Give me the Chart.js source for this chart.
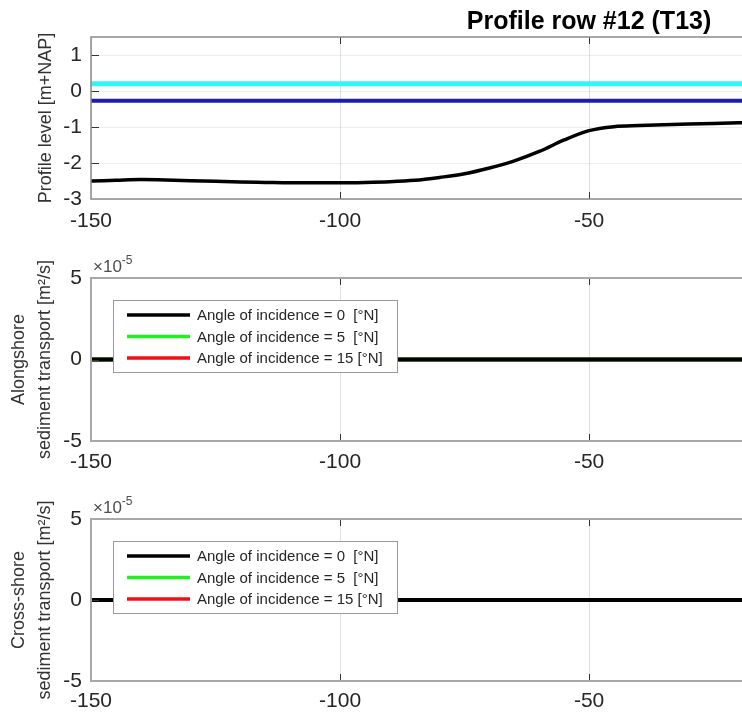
<!DOCTYPE html>
<html><head><meta charset="utf-8">
<script src="https://cdn.jsdelivr.net/npm/chart.js@4"></script>
<style>
html,body{margin:0;padding:0;background:#fff;}
#wrap{position:relative;width:742px;height:720px;overflow:hidden;background:#fff;}
canvas{position:absolute;left:0;}
</style></head><body>
<div id="wrap">
<canvas id="c1" width="742" height="240" style="top:0px"></canvas>
<canvas id="c2" width="742" height="240" style="top:240px"></canvas>
<canvas id="c3" width="742" height="240" style="top:480px"></canvas>
</div>
<script>
// ---------- data ----------
const titleText = 'Profile row #12 (T13)';
const xPositions = [-150,-145,-140,-135,-130,-125,-120,-115,-110,-105,-100,-95,-90,-85,-80,-75,-70,-65,-60,-55,-50,-45,-40,-35,-30,-25,-20,-15];
const profileLevel = [-2.50,-2.48,-2.46,-2.47,-2.49,-2.51,-2.53,-2.54,-2.55,-2.55,-2.55,-2.54,-2.52,-2.48,-2.40,-2.30,-2.14,-1.94,-1.68,-1.36,-1.10,-0.99,-0.96,-0.94,-0.92,-0.90,-0.88,-0.87];
const waterLevels = [0.2, -0.27];           // high / low water level [m+NAP]
const angleLabels = ['Angle of incidence = 0  [\u00b0N]', 'Angle of incidence = 5  [\u00b0N]', 'Angle of incidence = 15 [\u00b0N]'];
const alongshore0  = [0,0,0,0,0,0,0,0,0,0,0,0,0,0,0,0,0,0,0,0,0,0,0,0,0,0,0,0];
const alongshore5  = [0,0,0,0,0,0,0,0,0,0,0,0,0,0,0,0,0,0,0,0,0,0,0,0,0,0,0,0];
const alongshore15 = [0,0,0,0,0,0,0,0,0,0,0,0,0,0,0,0,0,0,0,0,0,0,0,0,0,0,0,0];
const crossshore0  = [0,0,0,0,0,0,0,0,0,0,0,0,0,0,0,0,0,0,0,0,0,0,0,0,0,0,0,0];
const crossshore5  = [0,0,0,0,0,0,0,0,0,0,0,0,0,0,0,0,0,0,0,0,0,0,0,0,0,0,0,0];
const crossshore15 = [0,0,0,0,0,0,0,0,0,0,0,0,0,0,0,0,0,0,0,0,0,0,0,0,0,0,0,0];
const xTickValues = [-150, -100, -50];
const levelTickValues = [-3, -2, -1, 0, 1];
const transportTickValues = [-5, 0, 5];     // in units of 1e-5
const transportExponent = -5;

// ---------- style ----------
const FONT = '"Liberation Sans", Arial, Helvetica, sans-serif';
const TXT = '#262626';
const X_MIN = -150, X_MAX = -19.3;
const angleColors = ['#000000', '#22ee22', '#ee1111'];

function pts(ys) { return xPositions.map((x, i) => ({x: x, y: ys[i]})); }

const frameTicks = {
  id: 'frameTicks',
  afterDraw(chart, args, opts) {
    const {ctx, chartArea: a} = chart;
    const xs = chart.scales.x, ys = chart.scales.y;
    ctx.save();
    ctx.strokeStyle = opts.tickColor || '#333';
    ctx.lineWidth = 1;
    ctx.beginPath();
    xs.ticks.forEach(t => {
      const px = Math.round(xs.getPixelForValue(t.value)) + 0.5;
      if (px <= a.left + 2) return;
      ctx.moveTo(px, a.bottom); ctx.lineTo(px, a.bottom - 7);
      ctx.moveTo(px, a.top); ctx.lineTo(px, a.top + 7);
    });
    ys.ticks.forEach(t => {
      const py = Math.round(ys.getPixelForValue(t.value)) + 0.5;
      if (py <= a.top + 2 || py >= a.bottom - 2) return;
      ctx.moveTo(a.left, py); ctx.lineTo(a.left + 8, py);
    });
    ctx.stroke();
    ctx.strokeStyle = opts.boxColor || '#999';
    ctx.lineWidth = opts.boxWidth || 1.5;
    ctx.beginPath();
    ctx.moveTo(chart.width + 5, a.top); ctx.lineTo(a.left, a.top);
    ctx.lineTo(a.left, a.bottom); ctx.lineTo(chart.width + 5, a.bottom);
    ctx.stroke();
    ctx.restore();
  }
};

const insideLegend = {
  id: 'insideLegend',
  afterDraw(chart, args, opts) {
    if (!opts.show) return;
    const {ctx, chartArea: a} = chart;
    const left = a.left + 22, top = a.top + 22, w = 284, h = 72;
    ctx.save();
    ctx.fillStyle = '#fff';
    ctx.fillRect(left, top, w, h);
    ctx.strokeStyle = '#9a9a9a';
    ctx.lineWidth = 1;
    ctx.strokeRect(left + 0.5, top + 0.5, w, h);
    ctx.font = '15px ' + FONT;
    ctx.textBaseline = 'middle';
    ctx.textAlign = 'left';
    chart.data.datasets.forEach((ds, i) => {
      const y = top + 15 + i * 21.5;
      ctx.strokeStyle = ds.borderColor;
      ctx.lineWidth = 3.5;
      ctx.beginPath(); ctx.moveTo(left + 14, y); ctx.lineTo(left + 77, y); ctx.stroke();
      ctx.fillStyle = TXT;
      ctx.fillText(ds.label, left + 84, y + 1);
    });
    ctx.restore();
  }
};

const exponentLabel = {
  id: 'exponentLabel',
  afterDraw(chart, args, opts) {
    if (!opts.show) return;
    const {ctx, chartArea: a} = chart;
    ctx.save();
    ctx.fillStyle = '#4d4d4d';
    ctx.textBaseline = 'alphabetic';
    ctx.textAlign = 'left';
    ctx.font = '17px ' + FONT;
    const base = '\u00d710';
    ctx.fillText(base, a.left + 2, a.top - 6);
    const w = ctx.measureText(base).width;
    ctx.font = '12px ' + FONT;
    ctx.fillText(String(transportExponent), a.left + 2 + w, a.top - 14);
    ctx.restore();
  }
};

const titleDraw = {
  id: 'titleDraw',
  afterDraw(chart, args, opts) {
    if (!opts.text) return;
    const {ctx} = chart;
    ctx.save();
    ctx.fillStyle = '#000';
    ctx.font = 'bold 25px ' + FONT;
    ctx.textAlign = 'center';
    ctx.textBaseline = 'middle';
    ctx.fillText(opts.text, 589, 22);
    ctx.restore();
  }
};

function makeX(height, pad) {
  return {
    type: 'linear', min: X_MIN, max: X_MAX,
    afterBuildTicks: s => { s.ticks = xTickValues.map(v => ({value: v})); },
    afterFit: s => { s.height = height; },
    grid: {color: 'rgba(0,0,0,0.12)', drawTicks: false, lineWidth: 1},
    border: {display: false},
    ticks: {color: TXT, font: {family: FONT, size: 21}, padding: pad, autoSkip: false, maxRotation: 0,
            callback: v => String(v)}
  };
}

function makeChart(id, cfg) {
  return new Chart(document.getElementById(id), {
    type: 'line',
    data: {datasets: cfg.datasets},
    options: {
      responsive: false, animation: false, devicePixelRatio: 1,
      layout: {padding: {top: cfg.top, left: 0, right: 0, bottom: 0}},
      plugins: {legend: {display: false}, tooltip: {enabled: false}, title: {display: false},
        insideLegend: {show: cfg.legend}, exponentLabel: {show: cfg.exponent}, titleDraw: {text: cfg.title},
        frameTicks: {boxColor: cfg.boxColor, boxWidth: cfg.boxWidth}},
      elements: {point: {radius: 0}},
      scales: {
        x: makeX(cfg.xHeight, cfg.xPad),
        y: cfg.y
      }
    },
    plugins: [frameTicks, insideLegend, exponentLabel, titleDraw]
  });
}

// ---------- chart 1: profile ----------
makeChart('c1', {
  top: 37, xHeight: 41, xPad: 10, title: titleText, legend: false, exponent: false,
  boxColor: '#8a8a8a', boxWidth: 1.5,
  datasets: [
    {label: 'Profile', data: pts(profileLevel), borderColor: '#000', borderWidth: 3.5, cubicInterpolationMode: 'monotone'},
    {label: 'High water', data: pts(xPositions.map(() => waterLevels[0])), borderColor: '#33f5f5', borderWidth: 5},
    {label: 'Low water', data: pts(xPositions.map(() => waterLevels[1])), borderColor: '#1c1cb0', borderWidth: 4}
  ],
  y: {
    type: 'linear', min: -3, max: 1.5,
    afterBuildTicks: s => { s.ticks = levelTickValues.map(v => ({value: v})); },
    afterFit: s => { s.width = 91; },
    grid: {color: 'rgba(0,0,0,0.07)', drawTicks: false},
    border: {display: false},
    ticks: {color: TXT, font: {family: FONT, size: 21}, padding: 9, callback: v => String(v)},
    title: {display: true, text: 'Profile level [m+NAP]', color: '#333', font: {family: FONT, size: 18}, padding: {top: 35, bottom: 0}}
  }
});

function transportY(lines) {
  return {
    type: 'linear', min: -5e-5, max: 5e-5,
    afterBuildTicks: s => { s.ticks = transportTickValues.map(v => ({value: v * Math.pow(10, transportExponent)})); },
    afterFit: s => { s.width = 91; },
    grid: {color: 'rgba(0,0,0,0.07)', drawTicks: false},
    border: {display: false},
    ticks: {color: TXT, font: {family: FONT, size: 21}, padding: 9,
            callback: v => String(Math.round(v / Math.pow(10, transportExponent)))},
    title: {display: true, text: lines, color: '#333', font: {family: FONT, size: 18, lineHeight: 1.45}, padding: {top: 6, bottom: 0}}
  };
}

// ---------- chart 2: alongshore ----------
makeChart('c2', {
  top: 38, xHeight: 39, xPad: 9, title: null, legend: true, exponent: true,
  boxColor: '#a8a8a8', boxWidth: 2,
  datasets: [
    {label: angleLabels[0], data: pts(alongshore0), borderColor: angleColors[0], borderWidth: 4},
    {label: angleLabels[1], data: pts(alongshore5), borderColor: angleColors[1], borderWidth: 4},
    {label: angleLabels[2], data: pts(alongshore15), borderColor: angleColors[2], borderWidth: 4}
  ],
  y: transportY(['Alongshore', 'sediment transport [m\u00b2/s]'])
});

// ---------- chart 3: cross-shore ----------
makeChart('c3', {
  top: 39, xHeight: 39, xPad: 8, title: null, legend: true, exponent: true,
  boxColor: '#a8a8a8', boxWidth: 2,
  datasets: [
    {label: angleLabels[0], data: pts(crossshore0), borderColor: angleColors[0], borderWidth: 4},
    {label: angleLabels[1], data: pts(crossshore5), borderColor: angleColors[1], borderWidth: 4},
    {label: angleLabels[2], data: pts(crossshore15), borderColor: angleColors[2], borderWidth: 4}
  ],
  y: transportY(['Cross-shore', 'sediment transport [m\u00b2/s]'])
});
</script>
</body></html>
